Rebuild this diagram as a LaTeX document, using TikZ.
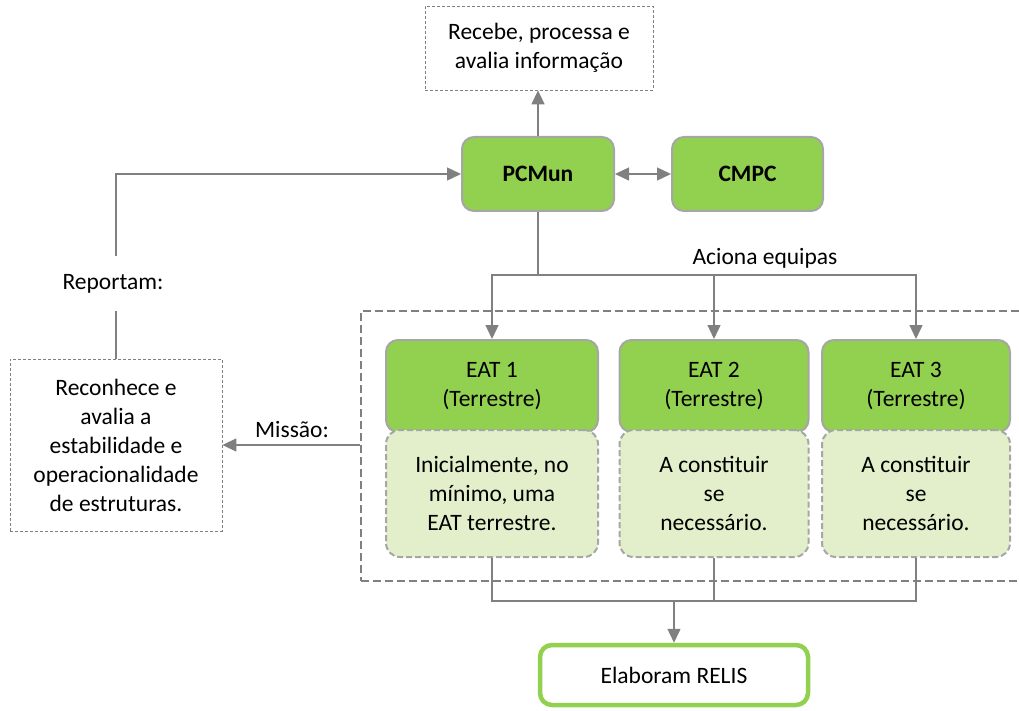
\documentclass[tikz,border=0pt]{standalone}
\usepackage{fontspec}
\setmainfont{Carlito}
\usetikzlibrary{arrows.meta}
\definecolor{lgreen}{HTML}{92D050}
\definecolor{pgreen}{HTML}{E2EFCA}
\definecolor{lgray}{HTML}{A6A6A6}
\definecolor{cgray}{HTML}{808080}
\tikzset{
  txt/.style={font=\fontsize{23.5}{29}\selectfont, align=center, inner sep=0pt},
  thinbox/.style={txt, draw=cgray, line width=0.8pt, dash pattern=on 3pt off 2pt},
  greenbox/.style={txt, draw=lgray, line width=2pt, fill=lgreen, rounded corners=12pt},
  palebox/.style={txt, draw=lgray, line width=2pt, fill=pgreen, rounded corners=14pt, dash pattern=on 6pt off 3pt},
  groupbox/.style={draw=cgray, line width=2.2pt, dash pattern=on 8pt off 4pt},
  relisbox/.style={txt, draw=lgreen, line width=4.5pt, fill=white, rounded corners=12pt},
  conn/.style={draw=cgray, line width=1.4pt},
  arr/.style={conn, -{Triangle[length=14pt,width=13pt]}},
  darr/.style={conn, {Triangle[length=14pt,width=13pt]}-{Triangle[length=14pt,width=13pt]}}
}
\begin{document}
\begin{tikzpicture}[x=1pt, y=-1pt]
\useasboundingbox (0,0) rectangle (1019,711);
% group dashed box (right side beyond the page)
\node[groupbox, anchor=north west, minimum width=680pt, minimum height=270pt, inner sep=0pt] (grp) at (360,310) {};
% top
\node[thinbox, minimum width=228pt, minimum height=84pt] (info) at (539,48) {Recebe, processa e\\avalia informação};
\node[greenbox, minimum width=152pt, minimum height=74pt] (pcmun) at (538,174) {\textbf{PCMun}};
\node[greenbox, minimum width=151pt, minimum height=74pt] (cmpc) at (747.5,174) {\textbf{CMPC}};
% left
\node[thinbox, minimum width=212pt, minimum height=172pt] (rec) at (116,445) {Reconhece e\\avalia a\\estabilidade e\\operacionalidade\\de estruturas.};
\node[txt, minimum height=55pt] (rep) at (113,283.5) {Reportam:};
\node[txt] (mis) at (292,430) {Missão:};
% EAT
\node[greenbox, minimum width=212pt, minimum height=92pt] (e1h) at (492,386) {EAT 1\\(Terrestre)};
\node[greenbox, minimum width=189pt, minimum height=92pt] (e2h) at (714,386) {EAT 2\\(Terrestre)};
\node[greenbox, minimum width=188pt, minimum height=92pt] (e3h) at (916,386) {EAT 3\\(Terrestre)};
\node[palebox, minimum width=212pt, minimum height=127pt] (e1l) at (492,493.5) {Inicialmente, no\\mínimo, uma\\EAT terrestre.};
\node[palebox, minimum width=189pt, minimum height=127pt] (e2l) at (714,493.5) {A constituir\\se\\necessário.};
\node[palebox, minimum width=188pt, minimum height=127pt] (e3l) at (916,493.5) {A constituir\\se\\necessário.};
\node[txt] (aciona) at (765,258) {Aciona equipas};
% bottom
\node[relisbox, minimum width=268pt, minimum height=60pt] (relis) at (674,675) {Elaboram RELIS};
% connectors
\draw[arr] (pcmun.north) -- (pcmun.north |- info.south);
\draw[darr] (pcmun.east) -- (cmpc.west);
\draw[conn] (rec.north) -- (rec.north |- rep.south);
\draw[arr] (rec.north |- rep.north) |- (pcmun.west);
\draw[arr] (grp.west |- rec.east) -- (rec.east);
\coordinate (h) at (538,275);
\draw[conn] (pcmun.south) -- (h);
\draw[arr] (h) -| (e1h.north);
\draw[arr] (h) -| (e2h.north);
\draw[arr] (h) -| (e3h.north);
\coordinate (j) at (674,601);
\draw[conn] (e1l.south) |- (j);
\draw[conn] (e2l.south) |- (j);
\draw[conn] (e3l.south) |- (j);
\draw[arr] (j) -- (relis.north);
\end{tikzpicture}
\end{document}
